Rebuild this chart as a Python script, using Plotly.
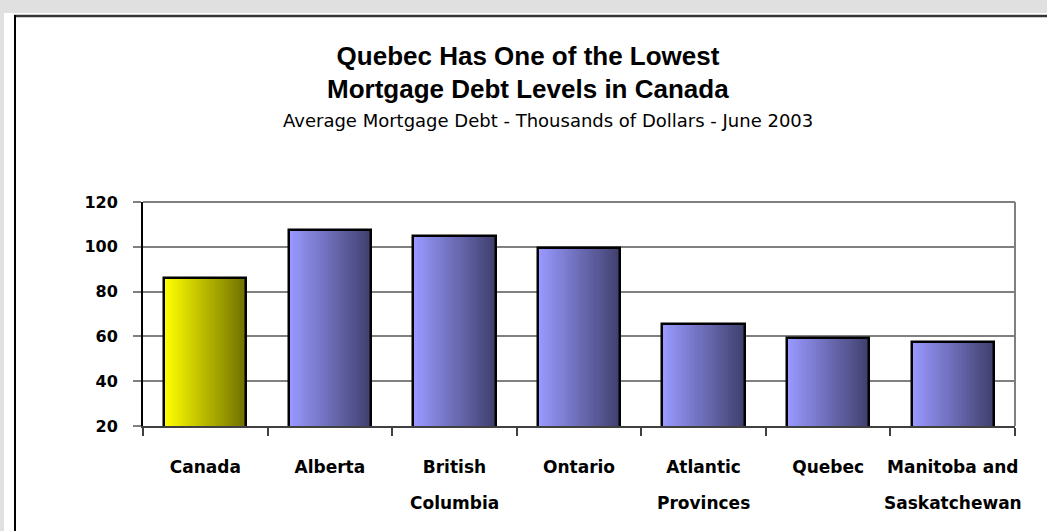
import plotly.graph_objects as go

# ---- data ----
categories = ["Canada", "Alberta", "British Columbia", "Ontario",
              "Atlantic Provinces", "Quebec", "Manitoba and Saskatchewan"]
label_line1 = ["Canada", "Alberta", "British", "Ontario", "Atlantic", "Quebec", "Manitoba and"]
label_line2 = ["", "", "Columbia", "", "Provinces", "", "Saskatchewan"]
mortgage_debt = [86.0, 107.3, 104.7, 99.4, 65.4, 59.3, 57.4]
y_ticks = [20, 40, 60, 80, 100, 120]

title_line1 = "Quebec Has One of the Lowest"
title_line2 = "Mortgage Debt Levels in Canada"
subtitle = "Average Mortgage Debt - Thousands of Dollars - June 2003"

# ---- layout geometry (pixels) ----
W, H = 1047, 531
L, R, T, B = 143, 1015, 202, 426


def px_x(px):
    return (px - L) / (R - L)


def px_y(py):
    return (B - py) / (B - T)


BAR_W = 0.66
N_STRIPS = 40

light = {"Canada": (255, 255, 0)}
dark = {"Canada": (112, 112, 0)}
blue_light = (153, 153, 255)
blue_dark = (64, 64, 110)


def mix(c1, c2, t):
    return "rgb(%d,%d,%d)" % tuple(round(a + (b - a) * t) for a, b in zip(c1, c2))


fig = go.Figure()
dw = BAR_W / N_STRIPS
for j in range(N_STRIPS):
    t = j / (N_STRIPS - 1)
    cols = []
    for c in categories:
        c1 = light.get(c, blue_light)
        c2 = dark.get(c, blue_dark)
        cols.append(mix(c1, c2, t))
    fig.add_trace(go.Bar(
        x=categories, y=mortgage_debt,
        width=dw * 1.25, offset=-BAR_W / 2 + j * dw,
        marker=dict(color=cols, line=dict(width=0)),
        showlegend=False, hoverinfo="skip",
    ))

# outline
fig.add_trace(go.Bar(
    x=categories, y=mortgage_debt, width=BAR_W,
    marker=dict(color="rgba(0,0,0,0)", line=dict(color="black", width=2.5)),
    showlegend=False, name="Average mortgage debt",
))

shapes = [
    # white panel
    dict(type="rect", xref="paper", yref="paper", layer="below",
         x0=px_x(4), x1=px_x(W + 5), y0=px_y(13), y1=px_y(H + 5),
         fillcolor="white", line=dict(width=0)),
    # panel border top
    dict(type="line", xref="paper", yref="paper",
         x0=px_x(14), x1=px_x(W + 5), y0=px_y(16), y1=px_y(16),
         line=dict(color="#333333", width=2.5)),
    # panel border left
    dict(type="line", xref="paper", yref="paper",
         x0=px_x(15), x1=px_x(15), y0=px_y(15), y1=px_y(H + 5),
         line=dict(color="black", width=2)),
    # right border of plot area
    dict(type="line", xref="paper", yref="paper",
         x0=1, x1=1, y0=0, y1=1, line=dict(color="#808080", width=2)),
    # top border of plot area
    dict(type="line", xref="paper", yref="paper",
         x0=0, x1=1, y0=1, y1=1, line=dict(color="#808080", width=2)),
]

title_font = dict(family="Liberation Sans", size=26, weight="bold", color="black")
label_font = dict(family="DejaVu Sans", size=17, weight="bold", color="black")

annotations = [
    dict(text=title_line2, xref="paper", yref="paper", x=px_x(528), y=px_y(89),
         xanchor="center", yanchor="middle", showarrow=False, font=title_font),
    dict(text=subtitle, xref="paper", yref="paper", x=px_x(548), y=px_y(120),
         xanchor="center", yanchor="middle", showarrow=False,
         font=dict(family="DejaVu Sans", size=18, color="black")),
]
for c, l2 in zip(categories, label_line2):
    if l2:
        annotations.append(dict(
            text=l2, xref="x", yref="paper", x=c, y=px_y(503),
            xanchor="center", yanchor="middle", showarrow=False, font=label_font))

fig.update_layout(
    width=W, height=H,
    margin=dict(l=L, r=W - R, t=T, b=H - B, pad=0, autoexpand=False),
    paper_bgcolor="#e0e0e0", plot_bgcolor="white",
    barmode="overlay", bargap=0,
    title=dict(text=title_line1, x=528 / W, xanchor="center",
               y=1 - 56 / H, yanchor="middle", xref="container", yref="container",
               font=title_font, automargin=False),
    shapes=shapes, annotations=annotations,
    xaxis=dict(
        type="category", categoryorder="array", categoryarray=categories,
        tickmode="array", tickvals=categories, ticktext=label_line1,
        tickangle=0, automargin=False,
        tickson="boundaries", ticks="outside", ticklen=8, tickwidth=2,
        tickcolor="#404040", showline=True, linecolor="#404040", linewidth=2,
        showgrid=False, ticklabelstandoff=25,
        tickfont=label_font,
        range=[-0.5, len(categories) - 0.5], fixedrange=True,
    ),
    yaxis=dict(
        range=[20, 120], tickmode="array", tickvals=y_ticks, automargin=False,
        ticks="outside", ticklen=8, tickwidth=2, tickcolor="#808080",
        showline=True, linecolor="black", linewidth=2,
        showgrid=True, gridcolor="#808080", gridwidth=2, zeroline=False,
        ticklabelstandoff=12,
        tickfont=dict(family="DejaVu Sans", size=16, weight="bold", color="black"),
        fixedrange=True,
    ),
)

fig.write_html("out.html")
